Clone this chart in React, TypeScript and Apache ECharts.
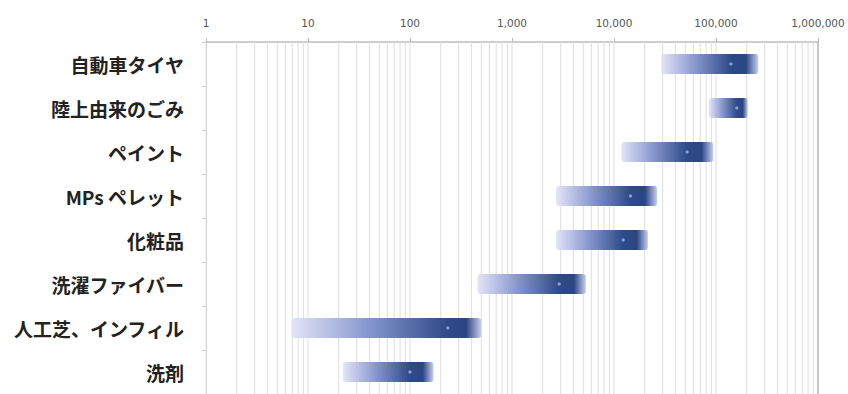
import React, { useEffect, useRef } from "react";
import * as echarts from "echarts";

// Sources of microplastics, annual estimate range (log scale)
const categories = [
  "自動車タイヤ",
  "陸上由来のごみ",
  "ペイント",
  "MPs ペレット",
  "化粧品",
  "洗濯ファイバー",
  "人工芝、インフィル",
  "洗剤",
];
const lowValues = [29000, 85000, 11800, 2700, 2700, 460, 6.9, 22];
const highValues = [260000, 205000, 94000, 26500, 21500, 5300, 500, 170];
const midValues = [140000, 160000, 52000, 14500, 12300, 2900, 235, 100];

// Log-axis grid: decades and the 2..9 steps inside each decade
const decades = [1, 10, 100, 1000, 10000, 100000];
const minorSteps = [1, 2, 3, 4, 5, 6, 7, 8, 9];
const axisMax = 1000000;

export default function App() {
  const ref = useRef<HTMLDivElement>(null);

  useEffect(() => {
    if (!ref.current) return;
    const chart = echarts.init(ref.current, null, { renderer: "svg" });

    const gridValues: number[] = [];
    decades.forEach((d) => minorSteps.forEach((s) => gridValues.push(d * s)));
    gridValues.push(axisMax);

    const rangeData = categories.map((_, i) => [i, lowValues[i], highValues[i], midValues[i]]);

    chart.setOption({
      animation: false,
      backgroundColor: "#ffffff",
      grid: { left: 206, right: 30, top: 42, bottom: 0, containLabel: false },
      xAxis: {
        type: "log",
        logBase: 10,
        min: 1,
        max: axisMax,
        position: "top",
        axisLine: { show: true, lineStyle: { color: "#bdbdbd", width: 1.5 } },
        axisTick: { show: true, length: 4, lineStyle: { color: "#bdbdbd" } },
        splitLine: { show: false },
        axisLabel: {
          margin: 14,
          color: "#555555",
          fontSize: 10.5,
          fontFamily: "DejaVu Sans",
          formatter: (v: number) => Math.round(v).toLocaleString("en-US"),
        },
      },
      yAxis: {
        type: "category",
        data: categories,
        inverse: true,
        axisLine: { show: true, lineStyle: { color: "#cfcfcf" } },
        axisTick: { show: true, length: 4, lineStyle: { color: "#cfcfcf" } },
        splitLine: { show: false },
        axisLabel: {
          margin: 22,
          color: "#222222",
          fontSize: 19,
          fontWeight: "bold",
          fontFamily: "Noto Sans CJK JP",
        },
      },
      series: [
        {
          type: "custom",
          name: "grid",
          silent: true,
          z: 1,
          data: gridValues.map((v) => [v, 0]),
          encode: { x: 0, y: 1 },
          renderItem: (params: any, api: any) => {
            const p = api.coord([api.value(0), 0]);
            const cs = params.coordSys;
            const isEdge = api.value(0) === axisMax;
            return {
              type: "line",
              shape: { x1: p[0], y1: cs.y, x2: p[0], y2: cs.y + cs.height },
              style: { stroke: isEdge ? "#b5b5b5" : "#dedede", lineWidth: isEdge ? 1.5 : 1 },
            };
          },
        },
        {
          type: "custom",
          name: "range",
          z: 5,
          data: rangeData,
          encode: { x: [1, 2, 3], y: 0 },
          renderItem: (params: any, api: any) => {
            const cat = api.value(0);
            const p0 = api.coord([api.value(1), cat]);
            const p1 = api.coord([api.value(2), cat]);
            const pm = api.coord([api.value(3), cat]);
            const h = 20;
            const w = p1[0] - p0[0];
            const f = Math.min(0.95, Math.max(0.05, (pm[0] - p0[0]) / w));
            const fill = new echarts.graphic.LinearGradient(0, 0, 1, 0, [
              { offset: 0, color: "#e4e4f9" },
              { offset: f * 0.5, color: "#8595cc" },
              { offset: f, color: "#2e4a88" },
              { offset: f + (1 - f) * 0.55, color: "#2c4684" },
              { offset: 1, color: "#c9cff0" },
            ]);
            return {
              type: "group",
              children: [
                {
                  type: "rect",
                  shape: { x: p0[0], y: p0[1] - h / 2, width: w, height: h, r: 3 },
                  style: { fill },
                },
                {
                  type: "circle",
                  shape: { cx: pm[0], cy: pm[1], r: 1.6 },
                  style: { fill: "#8fa0cc" },
                },
              ],
            };
          },
        },
      ],
    });

    return () => chart.dispose();
  }, []);

  return (
    <div
      ref={ref}
      style={{ position: "fixed", left: 0, top: 0, width: 848, height: 394 }}
    />
  );
}
